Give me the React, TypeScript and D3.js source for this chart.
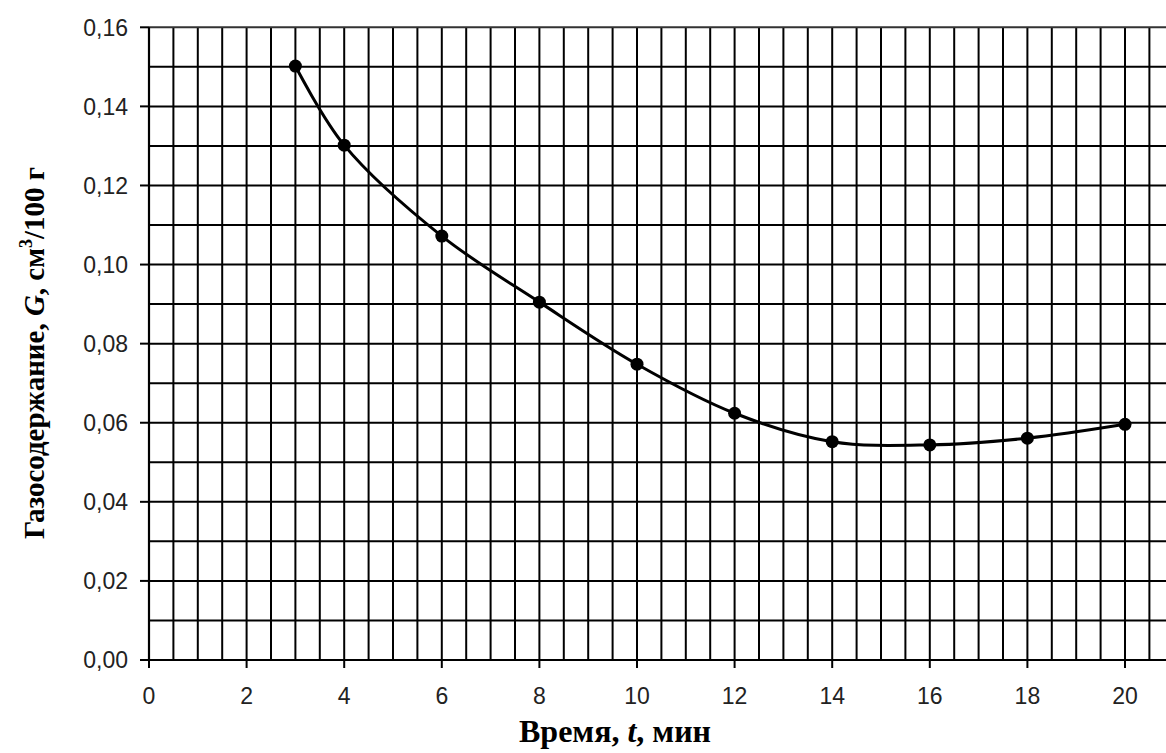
import React from "react";
import * as d3 from "d3";

// Measured gas content over time
const timeMin = [3, 4, 6, 8, 10, 12, 14, 16, 18, 20];
const gasContent = [0.1502, 0.1302, 0.1072, 0.0905, 0.0748, 0.0624, 0.0552, 0.0544, 0.0561, 0.0596];

const xTickValues = [0, 2, 4, 6, 8, 10, 12, 14, 16, 18, 20];
const yTickValues = [0, 0.02, 0.04, 0.06, 0.08, 0.1, 0.12, 0.14, 0.16];

const W = 1166;
const H = 753;

export default function App() {
  const x = d3.scaleLinear().domain([0, 21]).range([149, 149 + 21 * 48.8]);
  const y = d3.scaleLinear().domain([0, 0.16]).range([660, 27.3]);

  const vGrid = d3.range(0.5, 21.01, 0.5);
  const hGrid = d3.range(0.01, 0.1601, 0.01);

  const line = d3
    .line<number>()
    .x((_, i) => x(timeMin[i]))
    .y((d) => y(d))
    .curve(d3.curveCatmullRom.alpha(0.5));

  const fmt = (v: number) => v.toFixed(2).replace(".", ",");

  return (
    <svg
      width={W}
      height={H}
      style={{ position: "absolute", left: 0, top: 0, background: "#fff" }}
    >
      <rect x={0} y={0} width={W} height={H} fill="#fff" />
      {/* grid */}
      {vGrid.map((g) => (
        <line key={"v" + g} x1={x(g)} x2={x(g)} y1={y(0.16)} y2={y(0)} stroke="#000" strokeWidth={2} />
      ))}
      {hGrid.map((g) => (
        <line
          key={"h" + g}
          x1={x(0)}
          x2={x(21)}
          y1={y(g)}
          y2={y(g)}
          stroke={Math.abs(g - 0.16) < 1e-6 ? "#333" : "#000"}
          strokeWidth={2}
        />
      ))}
      {/* axes */}
      <line x1={x(0)} x2={x(0)} y1={y(0.16)} y2={y(0)} stroke="#000" strokeWidth={2.2} />
      <line x1={x(0) - 9} x2={x(21)} y1={y(0)} y2={y(0)} stroke="#000" strokeWidth={2.2} />
      {yTickValues.map((t) => (
        <g key={"yt" + t}>
          <line x1={x(0) - 9} x2={x(0)} y1={y(t)} y2={y(t)} stroke="#000" strokeWidth={2} />
          <text
            x={128}
            y={y(t)}
            dy="0.36em"
            textAnchor="end"
            fontFamily="Liberation Sans, Arial, sans-serif"
            fontSize={23}
            fill="#222"
          >
            {fmt(t)}
          </text>
        </g>
      ))}
      {xTickValues.map((t) => (
        <g key={"xt" + t}>
          <line x1={x(t)} x2={x(t)} y1={y(0)} y2={y(0) + 8} stroke="#000" strokeWidth={2} />
          <text
            x={x(t)}
            y={704}
            textAnchor="middle"
            fontFamily="Liberation Sans, Arial, sans-serif"
            fontSize={23}
            fill="#222"
          >
            {t}
          </text>
        </g>
      ))}
      {/* data */}
      <path d={line(gasContent) || ""} fill="none" stroke="#000" strokeWidth={3} />
      {gasContent.map((v, i) => (
        <circle key={"p" + i} cx={x(timeMin[i])} cy={y(v)} r={6.5} fill="#000" />
      ))}
      {/* axis titles */}
      <text
        x={615}
        y={742}
        textAnchor="middle"
        fontFamily="Liberation Serif, Times New Roman, serif"
        fontWeight="bold"
        fontSize={32}
        fill="#000"
      >
        Время, <tspan fontStyle="italic">t</tspan>, мин
      </text>
      <text
        transform="translate(44,353) rotate(-90)"
        textAnchor="middle"
        fontFamily="Liberation Serif, Times New Roman, serif"
        fontWeight="bold"
        fontSize={29}
        fill="#000"
      >
        Газосодержание, <tspan fontStyle="italic">G</tspan>, см
        <tspan dy={-12} fontSize={18}>3</tspan>
        <tspan dy={12}>/100 г</tspan>
      </text>
    </svg>
  );
}
